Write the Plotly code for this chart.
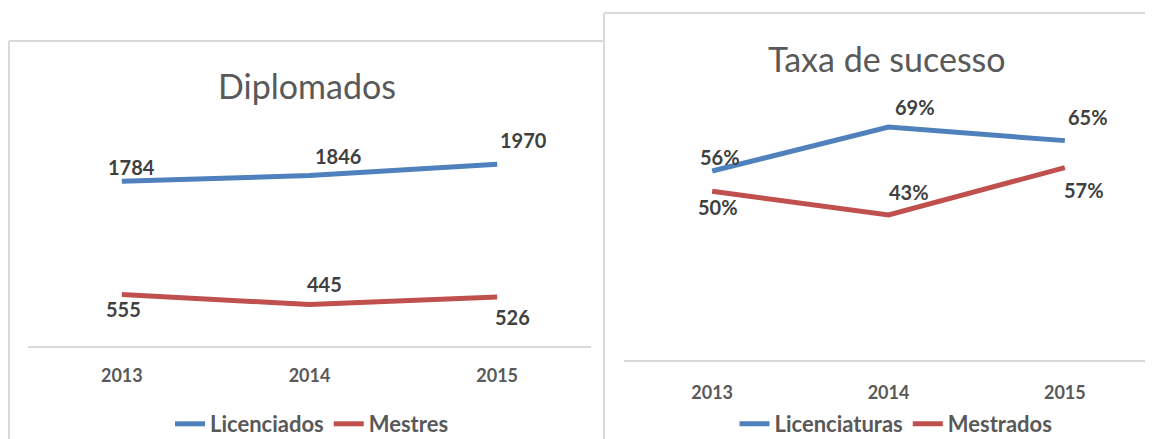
import plotly.graph_objects as go

# ---- data ----
years = ["2013", "2014", "2015"]
licenciados = [1784, 1846, 1970]
mestres = [555, 445, 526]
taxa_licenciaturas = [0.56, 0.69, 0.65]
taxa_mestrados = [0.50, 0.43, 0.57]

title_left = "Diplomados"
title_right = "Taxa de sucesso"

BLUE = "#4F81BD"
RED = "#C0504D"
GRID = "#D9D9D9"
FONT = "Lato"

# the page body adds an 8px margin; design in screen pixels
OFF = 8
SW, SH = 1153, 439
W, H = SW - OFF, SH - OFF


def px(x):
    return (x - OFF) / W


def py(y):
    return 1 - (y - OFF) / H


fig = go.Figure()

fig.add_trace(go.Scatter(x=years, y=licenciados, name="Licenciados", mode="lines",
                         line=dict(color=BLUE, width=5), xaxis="x", yaxis="y", legend="legend"))
fig.add_trace(go.Scatter(x=years, y=mestres, name="Mestres", mode="lines",
                         line=dict(color=RED, width=5), xaxis="x", yaxis="y", legend="legend"))
fig.add_trace(go.Scatter(x=years, y=taxa_licenciaturas, name="Licenciaturas", mode="lines",
                         line=dict(color=BLUE, width=5), xaxis="x2", yaxis="y2", legend="legend2"))
fig.add_trace(go.Scatter(x=years, y=taxa_mestrados, name="Mestrados", mode="lines",
                         line=dict(color=RED, width=5), xaxis="x2", yaxis="y2", legend="legend2"))

# data labels (offsets in px: dx right, dy down)
label_font = dict(family=FONT, size=20, color="#404040", weight="bold")
off_lic = [(10, -14), (28, -20), (26, -24)]
off_mes = [(2, 15), (15, -21), (15, 20)]
off_tl = [(8, -14), (26, -20), (23, -24)]
off_tm = [(6, 16), (20, -23), (19, 22)]

ann = []


def add_labels(ys, offs, xref, yref, fmt):
    for i, (yv, (dx, dy)) in enumerate(zip(ys, offs)):
        ann.append(dict(x=i, y=yv, xref=xref, yref=yref, text=fmt(yv), showarrow=False,
                        xshift=dx, yshift=-dy, font=label_font,
                        xanchor="center", yanchor="middle"))


add_labels(licenciados, off_lic, "x", "y", lambda v: f"{v}")
add_labels(mestres, off_mes, "x", "y", lambda v: f"{v}")
add_labels(taxa_licenciaturas, off_tl, "x2", "y2", lambda v: f"{round(v * 100)}%")
add_labels(taxa_mestrados, off_tm, "x2", "y2", lambda v: f"{round(v * 100)}%")

title_font = dict(family=FONT, size=34, color="#595959")
ann.append(dict(x=px(307), y=py(85), xref="paper", yref="paper", text=title_left,
                showarrow=False, font=title_font, xanchor="center", yanchor="middle"))
ann.append(dict(x=px(887), y=py(58), xref="paper", yref="paper", text=title_right,
                showarrow=False, font=title_font, xanchor="center", yanchor="middle"))

# chart borders
bl = dict(color=GRID, width=2)
shapes = [
    dict(type="line", xref="paper", yref="paper", x0=px(9), x1=px(9), y0=0, y1=py(41), line=bl),
    dict(type="line", xref="paper", yref="paper", x0=px(9), x1=px(604), y0=py(41), y1=py(41), line=bl),
    dict(type="line", xref="paper", yref="paper", x0=px(604), x1=px(604), y0=0, y1=py(13), line=bl),
    dict(type="line", xref="paper", yref="paper", x0=px(604), x1=1, y0=py(13), y1=py(13), line=bl),
]

tick_font = dict(family=FONT, size=18, color="#595959", weight="bold")
legend_font = dict(family=FONT, size=22, color="#595959", weight="bold")

xcommon = dict(type="category", range=[-0.5, 2.5], showgrid=False, zeroline=False,
               showline=True, linecolor=GRID, linewidth=2, ticks="", tickfont=tick_font,
               fixedrange=True)
ycommon = dict(showgrid=False, zeroline=False, showline=False, showticklabels=False,
               ticks="", fixedrange=True)

fig.update_layout(
    width=W, height=H,
    margin=dict(l=0, r=0, t=0, b=0, autoexpand=False),
    paper_bgcolor="white", plot_bgcolor="white",
    xaxis=dict(domain=[px(28), px(591)], anchor="y", ticklabelstandoff=13, **xcommon),
    yaxis=dict(domain=[py(345.5), py(115.4)], range=[0, 2500], anchor="x", **ycommon),
    xaxis2=dict(domain=[px(624), 1.0], anchor="y2", ticklabelstandoff=15, **xcommon),
    yaxis2=dict(domain=[py(360), py(90)], range=[0, 0.8], anchor="x2", **ycommon),
    legend=dict(orientation="h", x=px(312), y=py(424), xanchor="center", yanchor="middle",
                font=legend_font, bgcolor="rgba(0,0,0,0)"),
    legend2=dict(orientation="h", x=px(896), y=py(424), xanchor="center", yanchor="middle",
                 font=legend_font, bgcolor="rgba(0,0,0,0)"),
    annotations=ann,
    shapes=shapes,
    showlegend=True,
)

fig.write_html("out.html")
